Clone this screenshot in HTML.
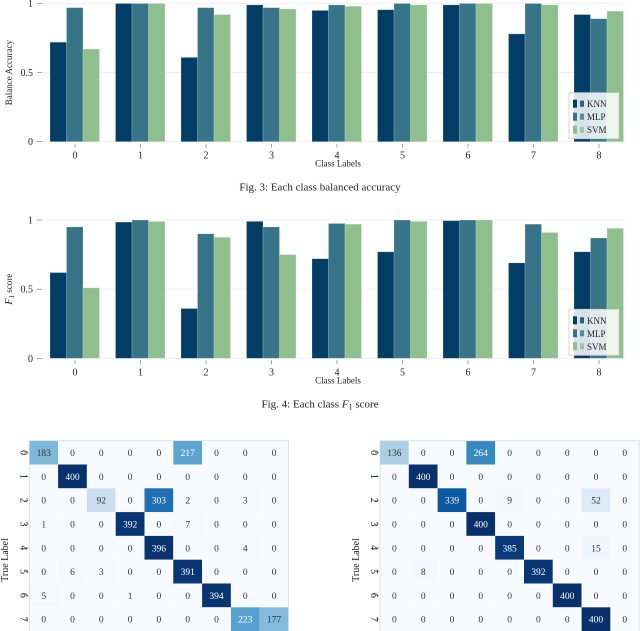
<!DOCTYPE html>
<html><head><meta charset="utf-8">
<style>
body{margin:0;background:#fff;}
svg{display:block;font-family:"Liberation Serif",serif;}
</style></head>
<body>
<svg id="s" width="640" height="631" viewBox="0 0 640 631"></svg>
<script>
const classes=[0,1,2,3,4,5,6,7,8];
const seriesNames=["KNN","MLP","SVM"];
const baKNN=[0.72,1.0,0.61,0.99,0.95,0.955,0.99,0.78,0.92];
const baMLP=[0.97,1.0,0.97,0.97,0.99,1.0,1.0,1.0,0.89];
const baSVM=[0.67,1.0,0.92,0.96,0.98,0.99,1.0,0.99,0.945];
const f1KNN=[0.62,0.985,0.36,0.99,0.72,0.77,0.995,0.69,0.77];
const f1MLP=[0.95,1.0,0.90,0.95,0.975,1.0,1.0,0.97,0.87];
const f1SVM=[0.51,0.99,0.875,0.75,0.97,0.99,1.0,0.91,0.94];
const yTicks=[0,0.5,1];
const yTickLabels=["0","0.5","1"];
const cmLeft=[
[183,0,0,0,0,217,0,0,0],
[0,400,0,0,0,0,0,0,0],
[0,0,92,0,303,2,0,3,0],
[1,0,0,392,0,7,0,0,0],
[0,0,0,0,396,0,0,4,0],
[0,6,3,0,0,391,0,0,0],
[5,0,0,1,0,0,394,0,0],
[0,0,0,0,0,0,0,223,177]];
const cmRight=[
[136,0,0,264,0,0,0,0,0],
[0,400,0,0,0,0,0,0,0],
[0,0,339,0,9,0,0,52,0],
[0,0,0,400,0,0,0,0,0],
[0,0,0,0,385,0,0,15,0],
[0,8,0,0,0,392,0,0,0],
[0,0,0,0,0,0,400,0,0],
[0,0,0,0,0,0,0,400,0]];
const colors=["#023d66","#377487","#8fbf8c"];
const NS="http://www.w3.org/2000/svg";
const svg=document.getElementById('s');
function mk(tag,attrs,parent,text){const e=document.createElementNS(NS,tag);for(const k in attrs)e.setAttribute(k,attrs[k]);if(text!==undefined)e.textContent=text;(parent||svg).appendChild(e);return e;}

function barChart(y0,y1,series,yTitle,caption,prefix){
  const g=mk('g',{});
  
  
  const yS=v=>y0+(y1-y0)*v;
  const xS=c=>75+c*65.5;
  yTicks.forEach((t,i)=>{
    const y=yS(t);
    mk('line',{x1:42,x2:625,y1:y,y2:y,stroke:'#ececec','stroke-width':0.8},g);
    mk('line',{x1:37,x2:42,y1:y,y2:y,stroke:'#666','stroke-width':0.6},g);
    const tl=mk('text',{x:33,y:y+3.5,'text-anchor':'end','font-size':10,fill:'#222'},g,yTickLabels[i]);
    
    
  });
  classes.forEach((c,ci)=>{
    series.forEach((s,si)=>{
      const x=xS(c)-25+si*16.5;
      const top=yS(s[ci]);
      const r=mk('rect',{x:x,y:top,width:16.5,height:y0-top,fill:colors[si],stroke:'#ffffff','stroke-opacity':0.35,'stroke-width':0.6},g);
      
      
    });
    mk('line',{x1:xS(c),x2:xS(c),y1:y0+2,y2:y0+6,stroke:'#666','stroke-width':0.6},g);
    const xl=mk('text',{x:xS(c),y:y0+17,'text-anchor':'middle','font-size':10,fill:'#222'},g,String(c));
    
    
  });
  const xt=mk('text',{x:338,y:y0+25,'text-anchor':'middle','font-size':9,fill:'#222'},g,'Class Labels');
  
  
  const yt=mk('text',{x:0,y:0,'text-anchor':'middle','font-size':9,fill:'#222',transform:`translate(12,${(y0+y1)/2}) rotate(-90)`},g);
  
  
  if(yTitle==='F1'){
    mk('tspan',{'font-style':'italic','font-size':10},yt,'F');
    mk('tspan',{'font-size':7,dy:2},yt,'1');
    mk('tspan',{dy:-2},yt,' score');
  } else yt.textContent=yTitle;
  const lg=mk('g',{},g);
  
  
  const ly=y0-49;
  mk('rect',{x:569,y:ly,width:50,height:46,fill:'#ffffff','fill-opacity':0.85,stroke:'#cccccc','stroke-width':0.8},lg);
  seriesNames.forEach((n,i)=>{
    const yy=ly+7+i*13;
    mk('rect',{x:573,y:yy,width:4,height:8,fill:colors[i]},lg);
    mk('rect',{x:580,y:yy+1,width:4,height:6,fill:colors[i],'fill-opacity':0.8},lg);
    const t=mk('text',{x:587,y:yy+7.5,'font-size':9,fill:'#222'},lg,n);
    
    
  });
  const cp=mk('text',{x:320,y:y0+49,'text-anchor':'middle','font-size':11,fill:'#222'},g);
  
  
  if(caption==='F1'){
    cp.textContent='Fig. 4: Each class ';
    mk('tspan',{'font-style':'italic'},cp,'F');
    mk('tspan',{'font-size':8,dy:2},cp,'1');
    mk('tspan',{dy:-2},cp,' score');
  } else cp.textContent=caption;
}
barChart(141.7,3.5,[baKNN,baMLP,baSVM],'Balance Accuracy','Fig. 3: Each class balanced accuracy','ba');
barChart(358.3,220,[f1KNN,f1MLP,f1SVM],'F1','F1','f1');

const blues=[[247,251,255],[222,235,247],[198,219,239],[158,202,225],[107,174,214],[66,146,198],[33,113,181],[8,81,156],[8,48,107]];
function blue(v){const t=Math.max(0,Math.min(1,v))*8;const i=Math.min(7,Math.floor(t));const f=t-i;const a=blues[i],b=blues[i+1];return `rgb(${a.map((x,k)=>Math.round(x+(b[k]-x)*f)).join(',')})`;}
function cm(x0,data,prefix,labelX){
  const g=mk('g',{});
  
  
  const cw=28.8,ch=23.8,y0=440.7;
  data.forEach((row,r)=>{
    row.forEach((v,c)=>{
      const rc=mk('rect',{x:x0+c*cw,y:y0+r*ch,width:cw,height:ch,fill:blue(v/400)},g);
      
      
      mk('text',{x:x0+c*cw+cw/2,y:y0+r*ch+ch/2+3.5,'text-anchor':'middle','font-size':9.5,fill:v>200?'#ffffff':'#333'},g,String(v));
    });
    const yc=y0+r*ch+ch/2;
    mk('line',{x1:x0-5,x2:x0-1,y1:yc,y2:yc,stroke:'#666','stroke-width':0.6},g);
    const tl=mk('text',{x:0,y:0,'text-anchor':'middle','font-size':10,fill:'#222',transform:`translate(${x0-9},${yc}) rotate(90)`},g,String(r));
    
    
  });
  mk('rect',{x:x0,y:y0,width:cw*9,height:ch*8+5,fill:'none',stroke:'#d8dde2','stroke-width':0.8},g);
  const t=mk('text',{x:0,y:0,'text-anchor':'middle','font-size':10,fill:'#222',transform:`translate(${labelX},560) rotate(-90)`},g,'True Label');
  
  
}
cm(29.3,cmLeft,'knn',8);
cm(380,cmRight,'svm',359);
</script>
</body></html>
